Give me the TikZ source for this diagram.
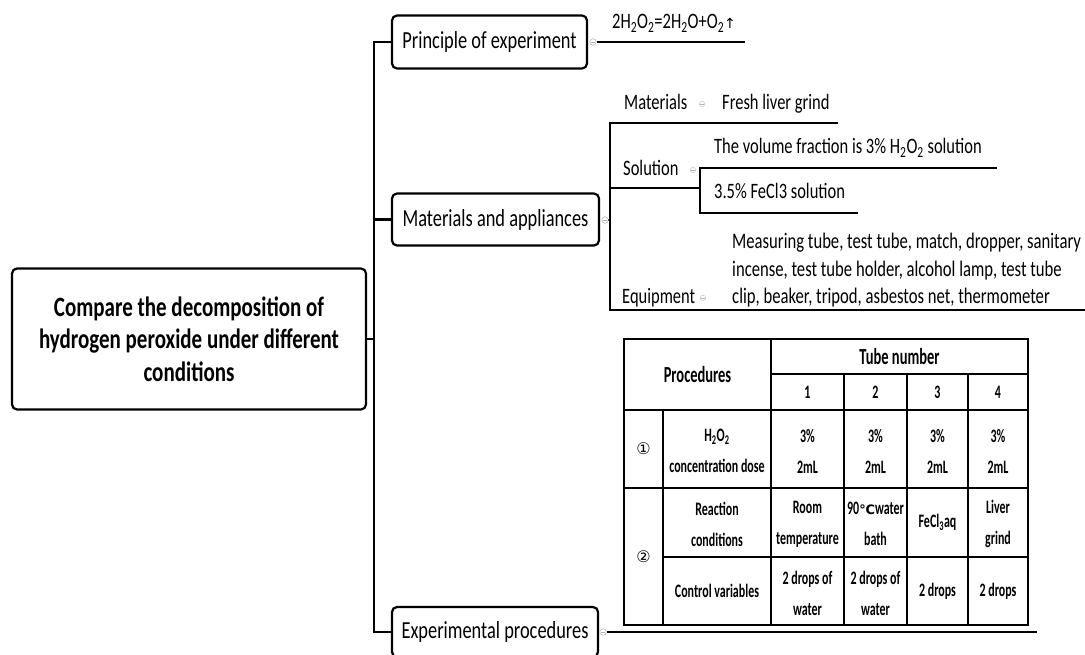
\documentclass[tikz,border=0pt]{standalone}
\usepackage{fontspec}
\setmainfont[FakeStretch=0.75]{Carlito}
\newfontfamily\tabfont[FakeStretch=0.63]{Carlito}
\newfontfamily\symfont{DejaVu Sans}
\begin{document}
\begin{tikzpicture}[x=1pt,y=-1pt,
  branch/.style={line width=2.6pt},
  box/.style={draw, line width=2.2pt, rounded corners=5pt, fill=white, inner sep=0pt,
    font=\fontsize{24.5}{28}\selectfont},
  lbl/.style={anchor=base west, inner sep=0pt, font=\fontsize{22}{27}\selectfont},
  tog/.style={circle, draw=gray!55, line width=0.6pt, minimum size=6.5pt, inner sep=0pt, fill=white,
    path picture={\draw[gray!60,line width=0.5pt] ([xshift=-1.8pt]path picture bounding box.center) -- ([xshift=1.8pt]path picture bounding box.center);}},
  tline/.style={line width=1.6pt},
  cell/.style={align=center, inner sep=0pt, font=\tabfont\bfseries\fontsize{19}{31}\selectfont},
  hcell/.style={cell, font=\tabfont\bfseries\fontsize{23}{31}\selectfont},
  ncell/.style={cell, font=\symfont\fontsize{16}{18}\selectfont}
]
\useasboundingbox (0,0) rectangle (1085,655);

% ---------- root and main boxes ----------
\node[box, minimum width=354pt, minimum height=141pt, align=center,
      font=\bfseries\fontsize{28}{32.5}\selectfont] (root) at (189,339)
  {Compare the decomposition of\\hydrogen peroxide under different\\conditions};
\node[box, minimum width=195pt, minimum height=53pt] (p1) at (489.5,42) {Principle of experiment};
\node[box, minimum width=207pt, minimum height=52pt] (p2) at (495.5,219.5) {Materials and appliances};
\node[box, minimum width=206pt, minimum height=50pt] (p3) at (495,632) {Experimental procedures};

\coordinate (T) at (374,0);
\draw[branch] (root.east) -- (root.east -| T);
\draw[branch] (p1.west) -- (p1.west -| T) -- (p3.west -| T) -- (p3.west);
\draw[branch] (p2.west -| T) -- (p2.west);

% ---------- principle ----------
\coordinate (e1) at (745,42);
\node[tog] (c1) at (593,42) {};
\draw[branch] (c1.east) -- (e1);
\node[anchor=base west, inner sep=0pt, font=\fontsize{22}{24}\selectfont] (f1) at (612,29)
  {2H\textsubscript{2}O\textsubscript{2}=2H\textsubscript{2}O+O\textsubscript{2}{\symfont\fontsize{14}{16}\selectfont ↑}};

% ---------- materials and appliances ----------
\coordinate (S) at (610,0);
\coordinate (mEnd) at (838,123);
\coordinate (sEnd) at (700,188);
\coordinate (qEnd) at (1085,310);
\draw[branch] (mEnd) -- (mEnd -| S) -- (qEnd -| S) -- (qEnd);
\draw[branch] (sEnd -| S) -- (sEnd);
\draw[branch] (605,220) -- (S |- 0,220);
\node[tog] (c2) at (605,220) {};

\coordinate (v1End) at (997,168);
\coordinate (v2End) at (858,213);
\draw[branch] (v1End) -- (v1End -| sEnd) -- (v2End -| sEnd) -- (v2End);

\node[lbl] (mat) at (624,110) {Materials};
\node[tog, draw=gray!40, minimum size=5.5pt] (c4) at (702,104) {};
\node[lbl] (liver) at (722,110) {Fresh liver grind};
\node[lbl] (sol) at (623,176) {Solution};
\node[tog, draw=gray!40, minimum size=5.5pt] (c5) at (693,170) {};
\node[lbl] (sol1) at (714,154) {The volume fraction is 3\% H\textsubscript{2}O\textsubscript{2} solution};
\node[lbl] (sol2) at (714,199) {3.5\% FeCl3 solution};
\node[lbl] (equ) at (622,304) {Equipment};
\node[tog, draw=gray!40, minimum size=5.5pt] (c6) at (703,298) {};
\node[anchor=base west, inner sep=0pt, align=left, font=\fontsize{22.2}{27.5}\selectfont] (equt) at (732,304)
  {Measuring tube, test tube, match, dropper, sanitary\\incense, test tube holder, alcohol lamp, test tube\\clip, beaker, tripod, asbestos net, thermometer};

% ---------- experimental procedures ----------
\coordinate (eEnd) at (1037,632);
\node[tog] (c3) at (603,632) {};
\draw[branch] (c3.east) -- (eEnd);

% ---------- table ----------
\draw[tline] (624,339) rectangle (1028,625);
\draw[tline] (771,374) -- (1028,374);
\draw[tline] (624,410) -- (1028,410);
\draw[tline] (624,488) -- (1028,488);
\draw[tline] (663,557) -- (1028,557);
\draw[tline] (663,410) -- (663,625);
\draw[tline] (771,339) -- (771,625);
\foreach \x in {844,907,968} \draw[tline] (\x,374) -- (\x,625);

\node[hcell] (proc) at (697.5,374.5) {Procedures};
\node[hcell] (tubeno) at (899.5,356.5) {Tube number};
\node[cell] (n1) at (807.5,392) {1};
\node[cell] (n2) at (875.5,392) {2};
\node[cell] (n3) at (937.5,392) {3};
\node[cell] (n4) at (998,392) {4};

\node[ncell] (r1) at (643.5,449) {①};
\node[cell] (h2o2) at (717,451) {H\textsubscript{2}O\textsubscript{2}\\concentration dose};
\node[cell] (a1) at (807.5,451) {3\%\\2mL};
\node[cell] (a2) at (875.5,451) {3\%\\2mL};
\node[cell] (a3) at (937.5,451) {3\%\\2mL};
\node[cell] (a4) at (998,451) {3\%\\2mL};

\node[ncell] (r2) at (643.5,557) {②};
\node[cell] (rc) at (717,524) {Reaction\\conditions};
\node[cell] (b1) at (807.5,524) {Room\\temperature};
\node[cell] (b2) at (875.5,524) {90{\symfont\fontsize{13}{14}\selectfont ℃}water\\bath};
\node[cell] (b3) at (937.5,522.5) {FeCl\textsubscript{3}aq};
\node[cell] (b4) at (998,524) {Liver\\grind};

\node[cell] (cv) at (717,591) {Control variables};
\node[cell] (d1) at (807.5,593) {2 drops of\\water};
\node[cell] (d2) at (875.5,593) {2 drops of\\water};
\node[cell] (d3) at (937.5,591) {2 drops};
\node[cell] (d4) at (998,591) {2 drops};
\end{tikzpicture}
\end{document}
